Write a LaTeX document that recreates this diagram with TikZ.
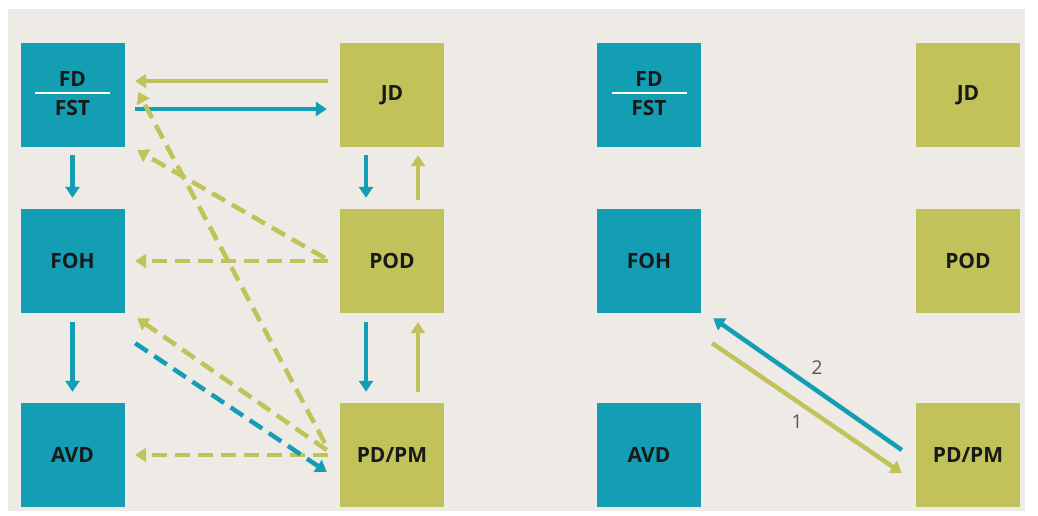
\documentclass[tikz,border=0pt]{standalone}
\usepackage{fontspec}
\setmainfont{Open Sans}
\usetikzlibrary{arrows.meta,calc}
\definecolor{tblue}{RGB}{20,158,180}
\definecolor{tgreen}{RGB}{193,194,89}
\definecolor{tbg}{RGB}{238,234,229}
\definecolor{tlab}{RGB}{85,85,85}
\tikzset{
  boxfont/.style={font=\fontsize{21}{24}\selectfont\bfseries,text=black!90},
  box/.style={minimum width=104pt,minimum height=104pt,inner sep=0pt,draw=none,boxfont},
  bbox/.style={box,fill=tblue},
  gbox/.style={box,fill=tgreen},
  arr/.style={line width=4.5pt,-{Triangle[width=14pt,length=11pt]}},
  dsh/.style={arr,dash pattern=on 15pt off 8pt},
  lab/.style={font=\fontsize{19}{22}\selectfont,text=tlab}
}
\begin{document}
\begin{tikzpicture}[x=1pt,y=-1pt]
\useasboundingbox (0,0) rectangle (1038,515);
\fill[white] (0,0) rectangle (1038,515);
\fill[tbg] (8,9) rectangle (1025,511);
% left panel
\node[bbox] (fd) at (72.5,95) {};
\node[boxfont] (fdt) at (72.5,79) {FD};
\node[boxfont] (fstt) at (72.5,108) {FST};
\draw[white,line width=1.8pt] (35,93) -- (110,93);
\node[bbox] (foh) at (72.5,261) {FOH};
\node[bbox] (avd) at (72.5,455) {AVD};
\node[gbox] (jd) at (392,95) {JD};
\node[gbox] (pod) at (392,261) {POD};
\node[gbox] (pd) at (392,455) {PD/PM};
% right panel
\node[bbox] (fd2) at (649,95) {};
\node[boxfont] (fdt2) at (649,79) {FD};
\node[boxfont] (fstt2) at (649,108) {FST};
\draw[white,line width=1.8pt] (612,93) -- (687,93);
\node[bbox] (foh2) at (649,261) {FOH};
\node[bbox] (avd2) at (649,455) {AVD};
\node[gbox] (jd2) at (968,95) {JD};
\node[gbox] (pod2) at (968,261) {POD};
\node[gbox] (pd2) at (968,455) {PD/PM};
% left arrows solid
\draw[arr,tgreen] ([xshift=-12pt,yshift=14pt]jd.west) -- ([xshift=10.5pt,yshift=14pt]fd.east);
\draw[arr,tblue] ([xshift=10.5pt,yshift=-14pt]fd.east) -- ([xshift=-13pt,yshift=-14pt]jd.west);
\draw[arr,tblue] ([yshift=-8pt]fd.south) -- ([yshift=11pt]foh.north);
\draw[arr,tblue] ([yshift=-9pt]foh.south) -- ([yshift=11pt]avd.north);
\draw[arr,tblue] ([xshift=-26pt,yshift=-8pt]jd.south) -- ([xshift=-26pt,yshift=11pt]pod.north);
\draw[arr,tgreen] ([xshift=26pt,yshift=9pt]pod.north) -- ([xshift=26pt,yshift=-8pt]jd.south);
\draw[arr,tblue] ([xshift=-26pt,yshift=-9pt]pod.south) -- ([xshift=-26pt,yshift=11pt]pd.north);
\draw[arr,tgreen] ([xshift=26pt,yshift=11pt]pd.north) -- ([xshift=26pt,yshift=-9pt]pod.south);
% left arrows dashed
\draw[dsh,tgreen] ([xshift=-12pt]pod.west) -- ([xshift=10.5pt]foh.east);
\draw[dsh,tgreen] ([xshift=-12pt]pd.west) -- ([xshift=10.5pt]avd.east);
\draw[dsh,tgreen] ([xshift=-15pt,yshift=3pt]pod.west) -- ([xshift=12.5pt,yshift=-3pt]fd.south east);
\draw[dsh,tgreen] ([xshift=-15pt,yshift=12pt]pd.west) -- ([xshift=13.5pt,yshift=3pt]fd.east);
\draw[dsh,tgreen] ([xshift=-13pt,yshift=5pt]pd.west) -- ([xshift=12.5pt,yshift=-5pt]foh.south east);
\draw[dsh,tblue] ([xshift=10.5pt,yshift=-30pt]foh.south east) -- ([xshift=-13pt,yshift=-17pt]pd.west);
% right arrows
\draw[arr,tgreen] ([xshift=11pt,yshift=-30pt]foh2.south east) -- ([xshift=-14pt,yshift=-18pt]pd2.west);
\draw[arr,tblue] ([xshift=-14pt,yshift=5pt]pd2.west) -- ([xshift=12pt,yshift=-5pt]foh2.south east);
\node[lab] (l1) at (797,422) {1};
\node[lab] (l2) at (817,368) {2};
\end{tikzpicture}
\end{document}
